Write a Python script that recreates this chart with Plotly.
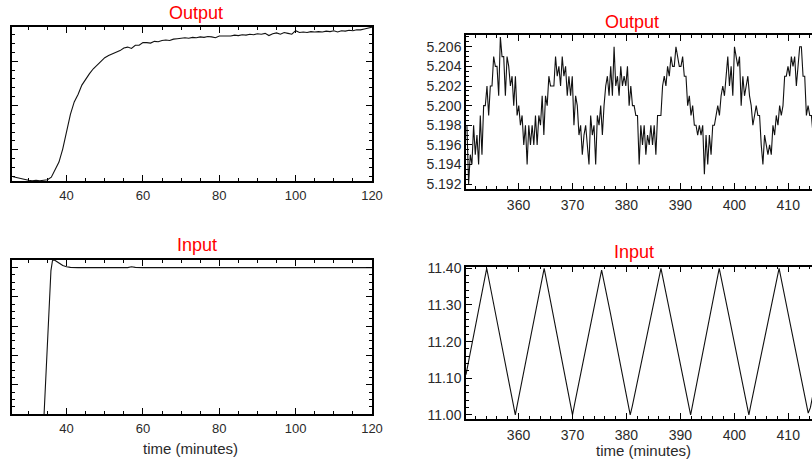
import plotly.graph_objects as go

# ---------------- data ----------------
# Left column: step experiment (time in minutes); y has no labels in the source
step_out_t = [26, 27, 28, 29, 30, 31, 32, 33, 34, 35,
              36, 37, 38, 39, 40, 41, 42, 43, 44, 45,
              46, 47, 48, 49, 50, 51, 52, 53, 54, 55,
              56, 57, 58, 59, 60, 61, 62, 63, 64, 65,
              66, 67, 68, 69, 70, 71, 72, 73, 74, 75,
              76, 77, 78, 79, 80, 81, 82, 83, 84, 85,
              86, 87, 88, 89, 90, 91, 92, 93, 94, 95,
              96, 97, 98, 99, 100, 101, 102, 103, 104, 105,
              106, 107, 108, 109, 110, 111, 112, 113, 114, 115,
              116, 117, 118, 119, 120]
step_out_v = [0.39, 0.37, 0.34, 0.32, 0.31, 0.30, 0.31, 0.30, 0.31, 0.32,
              0.38, 0.55, 0.72, 1.02, 1.44, 1.80, 2.08, 2.25, 2.46, 2.60,
              2.72, 2.83, 2.92, 3.00, 3.08, 3.13, 3.17, 3.21, 3.24, 3.30,
              3.32, 3.29, 3.36, 3.36, 3.42, 3.42, 3.41, 3.45, 3.44, 3.47,
              3.48, 3.47, 3.50, 3.51, 3.52, 3.53, 3.52, 3.54, 3.53, 3.55,
              3.54, 3.56, 3.55, 3.53, 3.57, 3.57, 3.58, 3.57, 3.59, 3.58,
              3.60, 3.59, 3.61, 3.60, 3.62, 3.61, 3.63, 3.58, 3.62, 3.64,
              3.61, 3.65, 3.63, 3.61, 3.69, 3.65, 3.66, 3.65, 3.67, 3.66,
              3.67, 3.66, 3.68, 3.67, 3.69, 3.66, 3.69, 3.68, 3.70, 3.69,
              3.71, 3.71, 3.73, 3.75, 3.77]

step_in_t = [34.1, 35.0, 35.9, 36.3, 36.8, 37.5, 38.2, 39.0, 40.0, 41.0,
             43.0, 46.0, 50.0, 54.0, 56.0, 57.0, 58.0, 60.0, 65.0, 70.0,
             80.0, 90.0, 100.0, 110.0, 115.0, 118.0, 120.0]
step_in_v = [-1.0, 1.35, 3.9, 4.24, 4.26, 4.20, 4.13, 4.07, 4.03, 4.01,
             4.00, 4.00, 4.01, 3.99, 4.00, 4.03, 4.01, 4.00, 4.00, 4.01,
             4.00, 4.00, 3.99, 4.00, 4.01, 4.00, 4.00]

# Right column: triangular-wave experiment
tri_out_t = [350.43, 350.74, 351.05, 351.36, 351.67, 351.98, 352.29, 352.60, 352.91, 353.22,
             353.53, 353.84, 354.15, 354.46, 354.77, 355.08, 355.39, 355.70, 356.01, 356.32,
             356.63, 356.94, 357.25, 357.56, 357.87, 358.18, 358.49, 358.80, 359.11, 359.42,
             359.73, 360.04, 360.35, 360.66, 360.97, 361.28, 361.59, 361.90, 362.21, 362.52,
             362.83, 363.14, 363.45, 363.76, 364.07, 364.38, 364.69, 365.00, 365.31, 365.62,
             365.93, 366.24, 366.55, 366.86, 367.17, 367.48, 367.79, 368.10, 368.41, 368.72,
             369.03, 369.34, 369.65, 369.96, 370.27, 370.58, 370.89, 371.20, 371.51, 371.82,
             372.13, 372.44, 372.75, 373.06, 373.37, 373.68, 373.99, 374.30, 374.61, 374.92,
             375.23, 375.54, 375.85, 376.16, 376.47, 376.78, 377.09, 377.40, 377.71, 378.02,
             378.33, 378.64, 378.95, 379.26, 379.57, 379.88, 380.19, 380.50, 380.81, 381.12,
             381.43, 381.74, 382.05, 382.36, 382.67, 382.98, 383.29, 383.60, 383.91, 384.22,
             384.53, 384.84, 385.15, 385.46, 385.77, 386.08, 386.39, 386.70, 387.01, 387.32,
             387.63, 387.94, 388.25, 388.56, 388.87, 389.18, 389.49, 389.80, 390.11, 390.42,
             390.73, 391.04, 391.35, 391.66, 391.97, 392.28, 392.59, 392.90, 393.21, 393.52,
             393.83, 394.14, 394.45, 394.76, 395.07, 395.38, 395.69, 396.00, 396.31, 396.62,
             396.93, 397.24, 397.55, 397.86, 398.17, 398.48, 398.79, 399.10, 399.41, 399.72,
             400.03, 400.34, 400.65, 400.96, 401.27, 401.58, 401.89, 402.20, 402.51, 402.82,
             403.13, 403.44, 403.75, 404.06, 404.37, 404.68, 404.99, 405.30, 405.61, 405.92,
             406.23, 406.54, 406.85, 407.16, 407.47, 407.78, 408.09, 408.40, 408.71, 409.02,
             409.33, 409.64, 409.95, 410.26, 410.57, 410.88, 411.19, 411.50, 411.81, 412.12,
             412.43, 412.74, 413.05, 413.36, 413.67, 413.98, 414.29, 414.60]
tri_out_v = [5.198, 5.192, 5.195, 5.194, 5.198, 5.195, 5.197, 5.194, 5.199, 5.195,
             5.200, 5.200, 5.202, 5.199, 5.202, 5.202, 5.205, 5.204, 5.204, 5.201,
             5.207, 5.205, 5.205, 5.201, 5.205, 5.204, 5.202, 5.203, 5.200, 5.203,
             5.199, 5.200, 5.198, 5.199, 5.196, 5.198, 5.194, 5.198, 5.196, 5.198,
             5.196, 5.199, 5.196, 5.199, 5.198, 5.201, 5.197, 5.201, 5.200, 5.203,
             5.202, 5.202, 5.202, 5.205, 5.203, 5.204, 5.202, 5.205, 5.203, 5.204,
             5.201, 5.203, 5.201, 5.203, 5.198, 5.201, 5.200, 5.197, 5.198, 5.195,
             5.197, 5.198, 5.196, 5.194, 5.199, 5.197, 5.198, 5.194, 5.199, 5.198,
             5.200, 5.197, 5.200, 5.202, 5.203, 5.201, 5.204, 5.201, 5.206, 5.202,
             5.203, 5.201, 5.204, 5.202, 5.203, 5.202, 5.204, 5.200, 5.202, 5.200,
             5.200, 5.199, 5.199, 5.194, 5.198, 5.196, 5.198, 5.195, 5.197, 5.196,
             5.198, 5.196, 5.198, 5.195, 5.199, 5.199, 5.199, 5.202, 5.203, 5.202,
             5.204, 5.203, 5.205, 5.204, 5.204, 5.206, 5.205, 5.204, 5.204, 5.205,
             5.203, 5.203, 5.200, 5.201, 5.199, 5.200, 5.198, 5.198, 5.197, 5.198,
             5.197, 5.198, 5.193, 5.197, 5.194, 5.197, 5.195, 5.198, 5.198, 5.199,
             5.200, 5.199, 5.201, 5.202, 5.201, 5.203, 5.205, 5.202, 5.204, 5.201,
             5.206, 5.205, 5.204, 5.205, 5.200, 5.203, 5.201, 5.202, 5.203, 5.201,
             5.200, 5.198, 5.199, 5.200, 5.199, 5.199, 5.196, 5.194, 5.197, 5.196,
             5.195, 5.196, 5.195, 5.198, 5.197, 5.199, 5.198, 5.200, 5.199, 5.200,
             5.203, 5.203, 5.204, 5.203, 5.205, 5.204, 5.205, 5.202, 5.204, 5.206,
             5.206, 5.203, 5.203, 5.199, 5.200, 5.199, 5.199, 5.197]

tri_in_t = [350.26, 351.0, 352.0, 353.0, 354.1, 355.0, 356.5, 358.0, 359.0, 359.4,
            359.8, 361.0, 363.0, 364.75, 366.0, 368.0, 369.6, 370.0, 370.4, 372.0,
            374.0, 375.4, 377.0, 379.0, 380.3, 380.7, 381.1, 383.0, 385.0, 386.4,
            388.0, 390.0, 391.5, 391.9, 392.3, 394.0, 396.0, 397.2, 399.0, 401.0,
            402.3, 402.7, 403.1, 405.0, 407.0, 408.3, 410.0, 412.0, 413.3, 413.7,
            414.1, 414.5]
tri_in_v = [11.11, 11.166, 11.24, 11.317, 11.40, 11.332, 11.219, 11.106, 11.035, 11.00,
            11.03, 11.12, 11.27, 11.40, 11.305, 11.153, 11.03, 11.00, 11.03, 11.148,
            11.296, 11.395, 11.28, 11.128, 11.03, 11.00, 11.025, 11.16, 11.30, 11.40,
            11.284, 11.138, 11.03, 11.00, 11.03, 11.158, 11.31, 11.40, 11.27, 11.124,
            11.03, 11.00, 11.03, 11.164, 11.307, 11.40, 11.275, 11.128, 11.035, 11.005,
            11.02, 11.05]

titles = ["Output", "Output", "Input", "Input"]
xlabel = "time (minutes)"

# ---------------- figure ----------------
W, H = 812, 463
FONT = "Liberation Sans, Arial, sans-serif"
LINE = dict(color="#111111", width=1.1)

fig = go.Figure()
fig.add_trace(go.Scatter(x=step_out_t, y=step_out_v, mode="lines", line=LINE, xaxis="x", yaxis="y"))
fig.add_trace(go.Scatter(x=tri_out_t, y=tri_out_v, mode="lines", line=LINE, xaxis="x2", yaxis="y2"))
fig.add_trace(go.Scatter(x=step_in_t, y=step_in_v, mode="lines", line=LINE, xaxis="x3", yaxis="y3"))
fig.add_trace(go.Scatter(x=tri_in_t, y=tri_in_v, mode="lines", line=LINE, xaxis="x4", yaxis="y4"))


def px_x(p):
    return p / W


def px_y(p):
    return 1 - p / H


def xax(dom, rng, dtick, minor_dtick, anchor, size):
    return dict(domain=dom, range=rng, dtick=dtick, anchor=anchor, automargin=False,
                showline=True, linecolor="black", linewidth=1.5, mirror="ticks",
                ticks="inside", ticklen=6, tickcolor="black", tickwidth=1,
                minor=dict(ticks="inside", ticklen=3, dtick=minor_dtick, tickcolor="black", showgrid=False),
                showgrid=False, zeroline=False, ticklabelstandoff=2,
                tickfont=dict(family=FONT, size=size, color="#2a2a2a"))


def yax(dom, rng, dtick, minor_dtick, anchor, labels, mirror, fmt=None):
    d = dict(domain=dom, range=rng, dtick=dtick, tick0=0, anchor=anchor, automargin=False,
             showline=True, linecolor="black", linewidth=1.5, mirror=mirror,
             ticks="inside", ticklen=6, tickcolor="black", tickwidth=1,
             minor=dict(ticks="inside", ticklen=3, dtick=minor_dtick, tickcolor="black", showgrid=False),
             showgrid=False, zeroline=False, showticklabels=labels,
             tickfont=dict(family=FONT, size=14, color="#2a2a2a"))
    if fmt:
        d["tickformat"] = fmt
    return d


left_dom = [px_x(12), px_x(372)]
right_dom = [px_x(466), 1.0]

fig.update_layout(
    width=W, height=H,
    margin=dict(l=0, r=0, t=0, b=0, pad=0),
    paper_bgcolor="white", plot_bgcolor="white",
    showlegend=False,
    xaxis=xax(left_dom, [25.7, 120], 20, 5, "y", 13),
    yaxis=yax([px_y(181), px_y(27)], [0.293, 3.774], 1, 0.2, "x", False, "ticks"),
    xaxis2=xax(right_dom, [350.26, 414.4], 10, 2, "y2", 14),
    yaxis2=yax([px_y(189), px_y(35)], [5.1915, 5.2072], 0.002, 0.0005, "x2", True, False, ".3f"),
    xaxis3=xax(left_dom, [25.7, 120], 20, 5, "y3", 13),
    yaxis3=yax([px_y(414), px_y(260)], [-0.99, 4.26], 1, 0.25, "x3", False, "ticks"),
    xaxis4=xax(right_dom, [350.26, 414.4], 10, 2, "y4", 14),
    yaxis4=yax([px_y(419), px_y(266.7)], [10.989, 11.4044], 0.1, 0.02, "x4", True, False, ".2f"),
)

title_pos = [(196, 13), (632, 22), (197, 245), (634, 252)]
for txt, (x, y) in zip(titles, title_pos):
    fig.add_annotation(text=txt, x=px_x(x), y=px_y(y), xref="paper", yref="paper",
                       showarrow=False, xanchor="center", yanchor="middle",
                       font=dict(family=FONT, size=18, color="#ff0000"))
for x, y in [(190, 448), (643, 450)]:
    fig.add_annotation(text=xlabel, x=px_x(x), y=px_y(y), xref="paper", yref="paper",
                       showarrow=False, xanchor="center", yanchor="middle",
                       font=dict(family=FONT, size=15, color="#2a2a2a"))

fig.write_html(
    "out.html",
    config={"displayModeBar": False},
    post_script="document.body.style.margin='0';document.body.style.overflow='hidden';",
)
